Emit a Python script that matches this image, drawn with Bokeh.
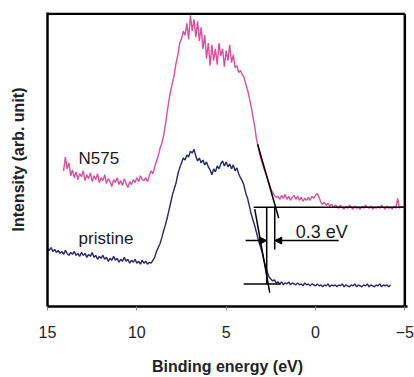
from bokeh.plotting import figure
from bokeh.models import Range1d, FixedTicker, Arrow, NormalHead
from bokeh.embed import file_html
from bokeh.resources import INLINE
from bokeh.core.properties import value

# ---------------- data (binding energy in eV, intensity in arb. units) ----------------
pink_energy = [14.1, 14.0, 13.9, 13.8, 13.7, 13.6, 13.5, 13.4, 13.3, 13.2, 13.1, 13.0,
               12.9, 12.8, 12.7, 12.6, 12.5, 12.4, 12.3, 12.2, 12.1, 12.0,
               11.9, 11.8, 11.7, 11.6, 11.5, 11.4, 11.3, 11.2, 11.1, 11.0,
               10.9, 10.8, 10.7, 10.6, 10.5, 10.4, 10.3, 10.2, 10.1, 10.0,
               9.9, 9.8, 9.7, 9.6, 9.5, 9.4, 9.3, 9.2, 9.1, 9.0,
               8.9, 8.8, 8.7, 8.6, 8.5, 8.4, 8.3, 8.2, 8.1, 8.0,
               7.9, 7.8, 7.7, 7.6, 7.5, 7.4, 7.3, 7.2, 7.1, 7.0,
               6.9, 6.8, 6.7, 6.6, 6.5, 6.4, 6.3, 6.2, 6.1, 6.0,
               5.9, 5.8, 5.7, 5.6, 5.5, 5.4, 5.3, 5.2, 5.1, 5.0,
               4.9, 4.8, 4.7, 4.6, 4.5, 4.4, 4.3, 4.2, 4.1, 4.0,
               3.9, 3.8, 3.7, 3.6, 3.5, 3.4, 3.3, 3.2, 3.1, 3.0,
               2.9, 2.8, 2.7, 2.6, 2.5, 2.4, 2.3, 2.2, 2.1, 2.0,
               1.9, 1.8, 1.7, 1.6, 1.5, 1.4, 1.3, 1.2, 1.1, 1.0,
               0.9, 0.8, 0.7, 0.6, 0.5, 0.4, 0.3, 0.2, 0.1, 0.0,
               -0.1, -0.2, -0.3, -0.4, -0.5, -0.6, -0.7, -0.8, -0.9, -1.0,
               -1.1, -1.2, -1.3, -1.4, -1.5, -1.6, -1.7, -1.8, -1.9, -2.0,
               -2.1, -2.2, -2.3, -2.4, -2.5, -2.6, -2.7, -2.8, -2.9, -3.0,
               -3.1, -3.2, -3.3, -3.4, -3.5, -3.6, -3.7, -3.8, -3.9, -4.0,
               -4.1, -4.2, -4.3, -4.4, -4.5, -4.6, -4.7, -4.8, -4.9, -5.0]
pink_intensity = [138, 152, 140, 146, 133, 139, 131, 137, 129, 135, 132, 138,
                  128, 134, 130, 136, 127, 133, 129, 135, 126, 131,
                  128, 134, 125, 130, 127, 122, 129, 126, 131, 124,
                  128, 123, 130, 125, 121, 127, 124, 129, 126, 131,
                  127, 133, 129, 128, 131, 127, 133, 138, 135, 142,
                  148, 153, 161, 166, 174, 185, 198, 210, 220, 228,
                  236, 248, 256, 268, 272, 280, 276, 288, 272, 296,
                  280, 292, 274, 290, 270, 284, 262, 276, 252, 268,
                  245, 266, 250, 262, 246, 268, 255, 262, 244, 260,
                  250, 266, 248, 256, 243, 245, 238, 240, 236, 233,
                  226, 220, 212, 203, 193, 183, 170, 162, 153, 147,
                  141, 136, 131, 125, 120, 116, 113, 111, 112, 109,
                  113, 110, 114, 109, 112, 108, 111, 113, 109, 112,
                  108, 111, 107, 110, 108, 111, 108, 112, 110, 113,
                  115, 111, 106, 104, 106, 103, 105, 102, 104, 101,
                  103, 102, 100, 103, 101, 99, 102, 100, 103, 101,
                  99, 102, 100, 101, 99, 102, 100, 103, 101, 100,
                  102, 99, 101, 100, 102, 100, 103, 101, 99, 102,
                  100, 101, 99, 102, 100, 110, 100, 102, 101, 101]

blue_energy = [15.0, 14.9, 14.8, 14.7, 14.6, 14.5, 14.4, 14.3, 14.2, 14.1, 14.0,
               13.9, 13.8, 13.7, 13.6, 13.5, 13.4, 13.3, 13.2, 13.1, 13.0,
               12.9, 12.8, 12.7, 12.6, 12.5, 12.4, 12.3, 12.2, 12.1, 12.0,
               11.9, 11.8, 11.7, 11.6, 11.5, 11.4, 11.3, 11.2, 11.1, 11.0,
               10.9, 10.8, 10.7, 10.6, 10.5, 10.4, 10.3, 10.2, 10.1, 10.0,
               9.9, 9.8, 9.7, 9.6, 9.5, 9.4, 9.3, 9.2, 9.1, 9.0,
               8.9, 8.8, 8.7, 8.6, 8.5, 8.4, 8.3, 8.2, 8.1, 8.0,
               7.9, 7.8, 7.7, 7.6, 7.5, 7.4, 7.3, 7.2, 7.1, 7.0,
               6.9, 6.8, 6.7, 6.6, 6.5, 6.4, 6.3, 6.2, 6.1, 6.0,
               5.9, 5.8, 5.7, 5.6, 5.5, 5.4, 5.3, 5.2, 5.1, 5.0,
               4.9, 4.8, 4.7, 4.6, 4.5, 4.4, 4.3, 4.2, 4.1, 4.0,
               3.9, 3.8, 3.7, 3.6, 3.5, 3.4, 3.3, 3.2, 3.1, 3.0,
               2.9, 2.8, 2.7, 2.6, 2.5, 2.4, 2.3, 2.2, 2.1, 2.0,
               1.9, 1.8, 1.7, 1.6, 1.5, 1.4, 1.3, 1.2, 1.1, 1.0,
               0.9, 0.8, 0.7, 0.6, 0.5, 0.4, 0.3, 0.2, 0.1, 0.0,
               -0.1, -0.2, -0.3, -0.4, -0.5, -0.6, -0.7, -0.8, -0.9, -1.0,
               -1.1, -1.2, -1.3, -1.4, -1.5, -1.6, -1.7, -1.8, -1.9, -2.0,
               -2.1, -2.2, -2.3, -2.4, -2.5, -2.6, -2.7, -2.8, -2.9, -3.0,
               -3.1, -3.2, -3.3, -3.4, -3.5, -3.6, -3.7, -3.8, -3.9, -4.0,
               -4.1, -4.2]
blue_intensity = [59, 57, 60, 56, 58, 55, 57, 54, 56, 53, 57,
                  54, 52, 55, 53, 56, 52, 54, 51, 55, 52,
                  54, 50, 53, 51, 55, 50, 52, 48, 51, 49,
                  52, 48, 50, 46, 49, 47, 51, 47, 49, 45,
                  48, 46, 50, 46, 48, 44, 47, 45, 48, 44,
                  46, 43, 47, 44, 46, 43, 45, 44, 47, 50,
                  56, 60, 64, 70, 77, 83, 90, 98, 106, 114,
                  120, 126, 135, 141, 146, 151, 149, 154, 152, 158,
                  156, 160, 153, 148, 151, 146, 149, 144, 147, 142,
                  139, 134, 140, 137, 143, 140, 145, 148, 143, 147,
                  142, 145, 140, 144, 138, 141, 135, 131, 128, 123,
                  115, 110, 102, 94, 88, 82, 75, 68, 62, 56,
                  48, 41, 35, 30, 28, 26, 27, 24, 25, 23,
                  25, 22, 24, 23, 25, 22, 24, 23, 22, 24,
                  22, 23, 21, 24, 22, 23, 21, 23, 22, 21,
                  23, 21, 22, 20, 22, 21, 23, 20, 22, 21,
                  22, 20, 22, 21, 23, 20, 22, 21, 20, 22,
                  21, 23, 20, 22, 21, 20, 22, 21, 23, 20,
                  22, 21, 20, 22, 21, 23, 20, 22, 21, 22,
                  20, 22]

x_ticks = [15, 10, 5, 0, -5]
x_limits = (15, -5)
y_limits = (0, 299)
x_view = (15, -5.15)

# onset construction lines (eV, arb. units)
tangent_n575_x = [3.24, 2.06]
tangent_n575_y = [165, 90]
tangent_pristine_x = [3.40, 2.56]
tangent_pristine_y = [99, 14]
base_n575_x = [3.46, -5.0]
base_n575_y = [101, 101]
base_pristine_x = [4.02, 1.95]
base_pristine_y = [23, 23]
onset_n575_x = [2.28, 2.28]
onset_n575_y = [101, 58]
onset_pristine_x = [2.73, 2.73]
onset_pristine_y = [101, 23]
arrow_left_x = [3.91, 2.73]
arrow_right_x = [-1.30, 2.28]
arrow_y = 67
shift_text = ["0.3 eV"]
shift_x = [1.11]
shift_y = [76]
series_names = ["N575", "pristine"]
series_label_x = [13.26, 13.26]
series_label_y = [151, 69]

PINK = "#D9509E"
NAVY = "#25256F"
FONT = "Liberation Sans"

p = figure(width=414, height=377, x_range=Range1d(*x_view), y_range=Range1d(*y_limits),
           output_backend="svg", toolbar_location=None,
           min_border_left=47, min_border_right=7, min_border_top=12, min_border_bottom=66)
p.xgrid.visible = False
p.ygrid.visible = False
p.background_fill_color = "white"
p.border_fill_color = "white"
p.outline_line_color = None

xa = p.xaxis[0]
xa.ticker = FixedTicker(ticks=x_ticks)
xa.minor_tick_line_color = None
xa.major_tick_in = 0
xa.major_tick_out = 4
xa.major_tick_line_color = "#888888"
xa.axis_line_color = "black"
xa.axis_line_width = 2.5
xa.major_label_text_font = FONT
xa.major_label_text_font_size = "16px"
xa.major_label_text_color = "#222222"
xa.major_label_standoff = 15
xa.axis_label = "Binding energy (eV)"
xa.axis_label_text_font = FONT
xa.axis_label_text_font_size = "16px"
xa.axis_label_text_font_style = "bold"
xa.axis_label_text_color = "#222222"
xa.axis_label_standoff = 17

ya = p.yaxis[0]
ya.ticker = FixedTicker(ticks=[])
ya.major_label_text_font_size = "0px"
ya.major_label_standoff = 0
ya.major_tick_in = 0
ya.major_tick_out = 0
ya.minor_tick_line_color = None
ya.axis_line_color = "black"
ya.axis_line_width = 2.5
ya.axis_label = "Intensity (arb. unit)"
ya.axis_label_text_font = FONT
ya.axis_label_text_font_size = "16px"
ya.axis_label_text_font_style = "bold"
ya.axis_label_text_color = "#222222"
ya.axis_label_standoff = 21

p.line(pink_energy, pink_intensity, line_color=PINK, line_width=1.4)
p.line(blue_energy, blue_intensity, line_color=NAVY, line_width=1.4)

p.multi_line(xs=[tangent_n575_x, tangent_pristine_x, base_n575_x, base_pristine_x,
                 onset_n575_x, onset_pristine_x],
             ys=[tangent_n575_y, tangent_pristine_y, base_n575_y, base_pristine_y,
                 onset_n575_y, onset_pristine_y],
             line_color="black", line_width=1.5)

p.add_layout(Arrow(end=NormalHead(size=7, line_color="black", fill_color="black"),
                   x_start=arrow_left_x[0], y_start=arrow_y,
                   x_end=arrow_left_x[1], y_end=arrow_y,
                   line_color="black", line_width=1.5))
p.add_layout(Arrow(end=NormalHead(size=7, line_color="black", fill_color="black"),
                   x_start=arrow_right_x[0], y_start=arrow_y,
                   x_end=arrow_right_x[1], y_end=arrow_y,
                   line_color="black", line_width=1.5))

p.text(x=shift_x, y=shift_y, text=shift_text, text_font=value(FONT),
       text_font_size="18px", text_baseline="middle", text_align="left",
       text_color="#1a1a1a")
p.text(x=series_label_x, y=series_label_y, text=series_names, text_font=value(FONT),
       text_font_size="17px", text_baseline="middle", text_align="left",
       text_color="#1a1a1a")

# close the black box: top edge and right edge (at -5 eV, inside the plotting area)
inset_y = 1.3
box_top_x = [x_limits[0], x_limits[1]]
box_top_y = [y_limits[1] - inset_y, y_limits[1] - inset_y]
box_right_x = [x_limits[1], x_limits[1]]
box_right_y = [y_limits[0], y_limits[1] - inset_y]
p.line(box_top_x, box_top_y, line_color="black", line_width=2.5)
p.line(box_right_x, box_right_y, line_color="black", line_width=2.5)

open("out.html", "w").write(file_html(p, INLINE))
